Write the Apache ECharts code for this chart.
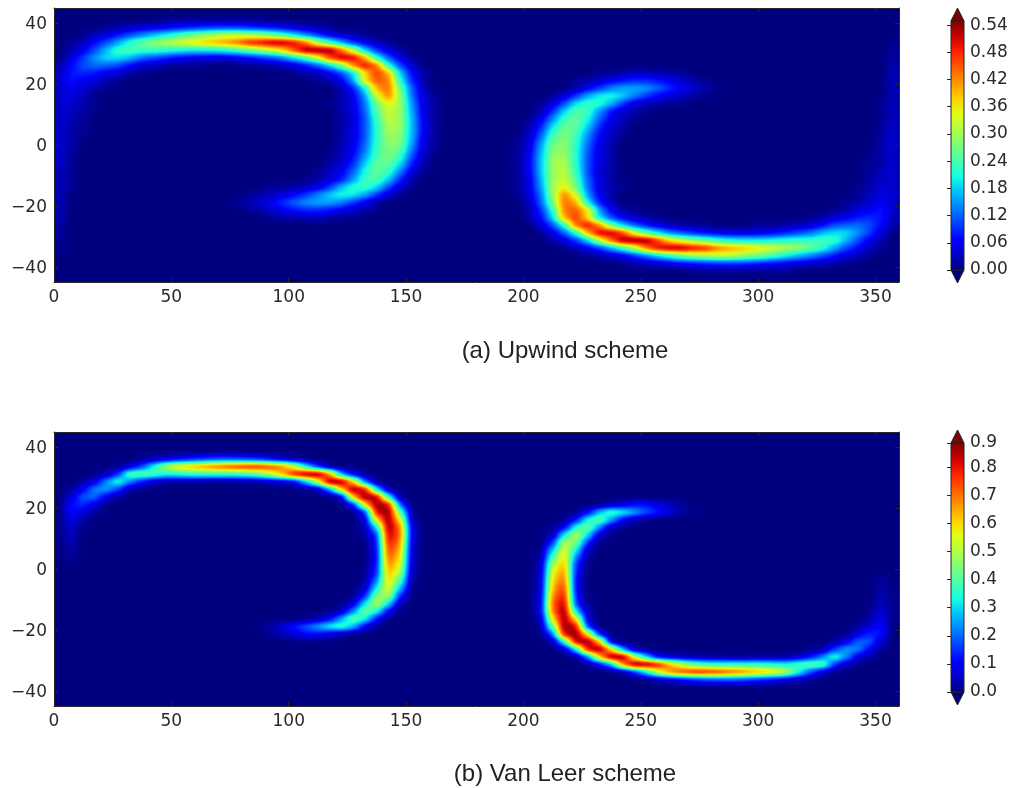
<!DOCTYPE html>
<html><head><meta charset="utf-8">
<style>html,body{margin:0;padding:0;background:#fff}#c{width:1014px;height:788px}</style>
<script src="https://cdn.jsdelivr.net/npm/echarts@6/dist/echarts.min.js"></script>
</head><body><div id="c"></div>
<svg width="0" height="0" style="position:absolute"><filter id="jetSmooth" x="0" y="0" width="100%" height="100%" color-interpolation-filters="sRGB"><feGaussianBlur stdDeviation="4 2.6"/><feComponentTransfer><feFuncR id="fr" type="table"/><feFuncG id="fg" type="table"/><feFuncB id="fbb" type="table"/></feComponentTransfer></filter></svg>
<script>
// rows: [latitude of cell centre, west edge of first cell (deg), values in hundredths ...]; cells are 5 deg x 2.5 deg
const upwindEastCrescent = [
[41.25,45,1,1,1,1,1,1,1,1,1],
[38.75,20,1,2,3,4,5,6,7,8,9,10,10,10,9,8,7,6,4,3,2,1],
[36.25,10,1,3,5,8,11,14,17,20,23,26,28,30,32,32,31,30,27,23,19,14,10,6,4,2,1],
[33.75,5,1,3,7,11,16,22,26,29,31,33,35,37,39,41,43,48,50,53,53,50,43,31,23,16,10,6,3,1],
[31.25,5,2,6,11,17,23,24,23,23,22,21,20,20,20,21,23,26,29,33,37,46,54,56,54,44,32,18,10,5,2],
[28.75,5,5,10,15,19,19,17,13,11,9,7,6,5,5,5,6,7,9,11,14,19,25,33,46,52,51,40,22,12,5,1],
[26.25,0,2,7,11,13,12,11,7,4,3,2,1,1,1,0,0,0,1,1,2,3,5,8,12,18,27,42,50,44,22,11,4],
[23.75,0,3,8,9,8,6,4,2,1],[23.75,100,1,2,3,6,11,19,37,47,40,18,7,2],
[21.25,0,4,8,6,5,2,1],[21.25,110,1,2,6,15,36,45,43,22,9,2],
[18.75,0,4,6,4,2,1],[18.75,120,3,8,20,40,44,27,12,3],
[16.25,0,4,5,3,1],[16.25,120,2,6,15,33,43,29,13,4,1],
[13.75,0,4,4,2,1],[13.75,115,1,2,5,13,27,35,30,15,5,1],
[11.25,0,4,3,2],[11.25,120,2,5,12,25,33,30,16,5,1],
[8.75,0,4,3,1],[8.75,120,2,4,11,23,32,30,17,6,1],
[6.25,0,4,2,1],[6.25,120,2,5,11,22,31,30,17,6,1],
[3.75,0,4,2,1],[3.75,120,2,5,11,22,30,29,17,6,1],
[1.25,0,4,2],[1.25,120,2,5,12,22,29,28,16,5,1],
[-1.25,0,4,2],[-1.25,120,3,6,13,23,28,26,14,4,1],
[-3.75,0,4,1],[-3.75,115,1,3,7,15,24,28,23,11,3],
[-6.25,0,4,1],[-6.25,115,2,4,9,18,26,26,19,8,2],
[-8.75,0,3,1],[-8.75,110,1,3,6,12,21,26,23,14,5,1],
[-11.25,0,3,1],[-11.25,105,1,2,4,8,15,23,25,18,9,2],
[-13.75,0,3,1],[-13.75,90,1,1,2,3,5,10,17,22,23,19,11,4,1],
[-16.25,0,3],[-16.25,80,1,2,3,5,7,10,14,18,21,20,16,10,4,1],
[-18.75,0,3],[-18.75,75,1,2,4,6,9,12,15,16,16,14,10,6,2],
[-21.25,0,3],[-21.25,80,1,2,4,6,8,9,9,8,6,4,2,1],
[-23.75,0,3],[-23.75,90,1,2,2,3,3,2,1,1],
[-26.25,0,2],[-28.75,0,2],[-31.25,0,1],[-33.75,0,1]
];
const upwindWestCrescent = [
[-41.25,270,1,1,1,1,1,1,1,1,1],
[-38.75,240,1,2,3,4,6,7,8,9,10,10,10,9,8,7,6,5,4,3,2,1],
[-36.25,225,1,2,4,6,10,14,19,23,27,30,31,32,32,30,28,26,23,20,17,14,11,8,5,3,1],
[-33.75,215,1,3,6,10,16,23,31,43,50,53,53,50,48,43,41,39,37,35,33,31,29,26,22,16,11,7,3,1],
[-31.25,210,2,5,10,18,32,44,54,56,54,46,37,33,29,26,23,21,20,20,20,21,22,23,23,24,23,17,11,6,2],
[-28.75,205,1,5,12,22,40,51,52,46,33,25,19,14,11,9,7,6,5,5,5,6,7,9,11,13,17,19,19,15,10,5],
[-26.25,205,4,11,22,44,50,42,27,18,12,8,5,3,2,1,1,0,0,0,1,1,1,2,3,4,7,11,12,13,11,7,2],
[-23.75,200,2,7,18,40,47,37,19,11,6,3,2,1],[-23.75,320,1,2,4,6,8,9,8,3],
[-21.25,200,2,9,22,43,45,36,15,6,2,1],[-21.25,330,1,2,5,6,8,4],
[-18.75,200,3,12,27,44,40,20,8,3],[-18.75,335,1,2,4,6,4],
[-16.25,195,1,4,13,29,43,33,15,6,2],[-16.25,340,1,3,5,4],
[-13.75,195,1,5,15,30,35,27,13,5,2,1],[-13.75,340,1,2,4,4],
[-11.25,195,1,5,16,30,33,25,12,5,2],[-11.25,345,2,3,4],
[-8.75,195,1,6,17,30,32,23,11,4,2],[-8.75,345,1,3,4],
[-6.25,195,1,6,17,30,31,22,11,5,2],[-6.25,345,1,2,4],
[-3.75,195,1,6,17,29,30,22,11,5,2],[-3.75,345,1,2,4],
[-1.25,195,1,5,16,28,29,22,12,5,2],[-1.25,350,2,4],
[1.25,195,1,4,14,26,28,23,13,6,3],[1.25,350,2,4],
[3.75,200,3,11,23,28,24,15,7,3,1],[3.75,350,1,4],
[6.25,200,2,8,19,26,26,18,9,4,2],[6.25,350,1,4],
[8.75,200,1,5,14,23,26,21,12,6,3,1],[8.75,350,1,3],
[11.25,205,2,9,18,25,23,15,8,4,2,1],[11.25,350,1,3],
[13.75,205,1,4,11,19,23,22,17,10,5,3,2,1,1],[13.75,350,1,3],
[16.25,210,1,4,10,16,20,21,18,14,10,7,5,3,2,1],[16.25,355,3],
[18.75,220,2,6,10,14,16,16,15,12,9,6,4,2,1],[18.75,355,3],
[21.25,220,1,2,4,6,8,9,9,8,6,4,2,1],[21.25,355,3],
[23.75,230,1,1,2,3,3,2,2,1],[23.75,355,3],
[26.25,355,2],[28.75,355,2],[31.25,355,1],[33.75,355,1]
];
const vanLeerEastCrescent = [
[36.25,35,2,4,7,10,13,15,17,18,17,16,14,10,6,3,1],
[33.75,25,1,7,17,33,50,58,62,66,70,73,76,78,78,74,68,54,32,15,2],
[31.25,15,1,5,16,41,42,39,33,34,36,36,36,36,36,38,42,52,64,80,88,89,68,26,10,1],
[28.75,10,3,8,24,36,22,12,6,3,2,2,2,1,1,2,2,3,4,6,9,28,52,88,89,62,22,2],
[26.25,5,2,10,23,25,16,3,1],[26.25,105,1,3,24,60,89,82,32,4],
[23.75,5,7,19,20,8,2],[23.75,120,6,62,89,85,36,3],
[21.25,5,12,15,8,1],[21.25,125,12,58,89,82,20],
[18.75,5,12,7,2],[18.75,130,14,82,89,42,2],
[16.25,0,1,9,3],[16.25,130,6,58,89,58,4],
[13.75,0,1,7,1],[13.75,130,4,30,88,70,8],
[11.25,0,1,5],[11.25,130,2,15,84,72,8],
[8.75,0,1,4],[8.75,135,12,80,68,7],
[6.25,0,1,3],[6.25,135,10,76,64,6],
[3.75,5,2],[3.75,135,10,72,60,6],
[1.25,5,1],[1.25,135,12,68,56,5],
[-1.25,130,1,14,64,50,4],
[-3.75,130,2,22,60,40,2],
[-6.25,130,5,32,57,28,1],
[-8.75,125,1,14,45,50,15],
[-11.25,120,1,6,30,52,32,4],
[-13.75,115,1,5,22,44,35,10,1],
[-16.25,105,1,4,10,25,42,34,12,1],
[-18.75,85,1,3,7,13,18,25,33,38,28,10,1],
[-21.25,90,2,5,8,12,12,8,4,1]
];
const vanLeerWestCrescent = [
[-36.25,250,1,3,6,10,14,16,17,18,17,15,13,10,7,4,2],
[-33.75,240,2,15,32,54,68,74,78,78,76,73,70,66,62,58,50,33,17,7,1],
[-31.25,225,1,10,26,68,89,88,80,64,52,42,38,36,36,36,36,36,34,33,39,42,41,16,5,1],
[-28.75,220,2,22,62,89,88,52,28,9,6,4,3,2,2,1,1,2,2,2,3,6,12,22,36,24,8,3],
[-26.25,215,4,32,82,89,60,24,3,1],[-26.25,320,1,3,16,25,23,10,2],
[-23.75,210,3,36,85,89,62,6],[-23.75,330,2,8,20,19,7],
[-21.25,210,20,82,89,58,12],[-21.25,335,1,8,15,12],
[-18.75,205,2,42,89,82,14],[-18.75,340,2,7,12],
[-16.25,205,4,58,89,58,6],[-16.25,345,3,9,1],
[-13.75,205,8,70,88,30,4],[-13.75,345,1,7,1],
[-11.25,205,8,72,84,15,2],[-11.25,350,5,1],
[-8.75,205,7,68,80,12],[-8.75,350,4,1],
[-6.25,205,6,64,76,10],[-6.25,350,3,1],
[-3.75,205,6,60,72,10],[-3.75,350,2],
[-1.25,205,5,56,68,12],[-1.25,350,1],
[1.25,205,4,50,64,14,1],
[3.75,205,2,40,60,22,2],
[6.25,205,1,28,57,32,5],
[8.75,210,15,50,45,14,1],
[11.25,210,4,32,52,30,6,1],
[13.75,210,1,10,35,44,22,5,1],
[16.25,215,1,12,34,42,25,10,4,1],
[18.75,220,1,10,28,38,33,25,18,13,7,3,1],
[21.25,230,1,4,8,12,12,8,5,2]
];
const xTicks = [0,50,100,150,200,250,300,350];
const yTicks = [-40,-20,0,20,40];
const upwindBarTicks = [0,0.06,0.12,0.18,0.24,0.30,0.36,0.42,0.48,0.54];
const vanLeerBarTicks = [0,0.1,0.2,0.3,0.4,0.5,0.6,0.7,0.8,0.886];
const upwindMax = 0.549, vanLeerMax = 0.886;
const captions = ['(a) Upwind scheme','(b) Van Leer scheme'];
const jet = ['#00007f','#0000c8','#0000ff','#0040ff','#0080ff','#00bfff','#14ffe2','#48ffaf','#7bff7b','#afff48','#e2ff14','#ffd200','#ff9700','#ff5c00','#ff2100','#c80000','#7f0000'];

const lonCats = [], latCats = [];
for (let i = 0; i < 72; i++) lonCats.push(String(2.5 + 5 * i));
for (let j = 0; j < 36; j++) latCats.push(String(-43.75 + 2.5 * j));

function cells(...sets) {
  const table = new Map();
  sets.forEach(rows => rows.forEach(r => {
    const j = Math.round((r[0] + 43.75) / 2.5), i0 = r[1] / 5;
    r.slice(2).forEach((v, k) => table.set((i0 + k) + ',' + j, v));
  }));
  const out = [];
  lonCats.forEach((_, i) => latCats.forEach((_, j) => out.push([i, j, (table.get(i + ',' + j) || 0) / 100])));
  return out;
}
const ink = '#2a2a2a';
const tickFont = {fontFamily:'DejaVu Sans', fontSize:17, color:ink};
const PANELS = [{left:54, top:8, width:845, height:274},{left:54, top:432, width:845, height:274}];
const grids = [
  {...PANELS[0], show:true, backgroundColor:'#00007f', borderWidth:0},
  {...PANELS[1], show:true, backgroundColor:'#00007f', borderWidth:0},
  {left:951, top:21, width:13, height:249},
  {left:951, top:443, width:13, height:249}
];
const xAxes = [], yAxes = [];
const line = {show:true, onZero:false, lineStyle:{color:ink, width:1}};
const tick = (vals) => ({show:true, inside:true, length:4, customValues:vals, lineStyle:{color:ink, width:1}});
[0,1].forEach(g => {
  xAxes.push({gridIndex:g, type:'category', data:lonCats, show:false});
  yAxes.push({gridIndex:g, type:'category', data:latCats, show:false});
  xAxes.push({gridIndex:g, type:'value', min:0, max:360, position:'bottom', zlevel:2, splitLine:{show:false}, axisLine:line, axisTick:tick(xTicks),
    axisLabel:{...tickFont, margin:7, customValues:xTicks, formatter:v=>String(v)}});
  xAxes.push({gridIndex:g, type:'value', min:0, max:360, position:'top', zlevel:2, splitLine:{show:false}, axisLine:line, axisTick:tick(xTicks), axisLabel:{show:false}});
  yAxes.push({gridIndex:g, type:'value', min:-45, max:45, position:'left', zlevel:2, splitLine:{show:false}, axisLine:line, axisTick:tick(yTicks),
    axisLabel:{...tickFont, margin:7, verticalAlign:'top', lineHeight:3, customValues:yTicks, formatter:v=>String(v).replace('-','\u2212')}});
  yAxes.push({gridIndex:g, type:'value', min:-45, max:45, position:'right', zlevel:2, splitLine:{show:false}, axisLine:line, axisTick:tick(yTicks), axisLabel:{show:false}});
});
function barAxes(g, max, ticks, digits) {
  xAxes.push({gridIndex:g, type:'value', min:0, max:1, show:false});
  yAxes.push({gridIndex:g, type:'value', min:0, max:max, position:'right', zlevel:2, splitLine:{show:false}, axisLine:{show:false},
    axisTick:tick(ticks), axisLabel:{...tickFont, margin:6, customValues:ticks, formatter:v=>v.toFixed(digits)}});
  return xAxes.length - 1;
}
const barA = barAxes(2, upwindMax, upwindBarTicks, 2);
const barB = barAxes(3, vanLeerMax, vanLeerBarTicks, 1);
function colorbar(axisIdx, max) {
  const stops = jet.map((c,i)=>({offset:i/16, color:c}));
  return {type:'custom', xAxisIndex:axisIdx, yAxisIndex:axisIdx, silent:true, z:3, data:[[max]],
    renderItem:(p,api)=>{
      const tl = api.coord([0,max]), br = api.coord([1,0]);
      const tip = 0.052 * max;
      const stroke = {stroke:'#222', lineWidth:1};
      return {type:'group', children:[
        {type:'polygon', shape:{points:[api.coord([0,max]),api.coord([1,max]),api.coord([0.5,max+tip])]}, style:{fill:'#7f0000',...stroke}},
        {type:'polygon', shape:{points:[api.coord([0,0]),api.coord([1,0]),api.coord([0.5,-tip])]}, style:{fill:'#00007f',...stroke}},
        {type:'rect', shape:{x:tl[0],y:tl[1],width:br[0]-tl[0],height:br[1]-tl[1]},
          style:{fill:new echarts.graphic.LinearGradient(0,1,0,0,stops),...stroke}}
      ]};
    }};
}
const heat = (x, y, data) => ({type:'heatmap', xAxisIndex:x, yAxisIndex:y, data, progressive:0, silent:true, zlevel:1, itemStyle:{borderWidth:0}, emphasis:{disabled:true}});
const chart = echarts.init(document.getElementById('c'), null, {renderer:'canvas'});
chart.setOption({
  animation:false,
  backgroundColor:'#fff',
  title: captions.map((t,i)=>({text:t, left:560, top:[334,757][i], textAlign:'center', textStyle:{fontFamily:'Liberation Sans', fontWeight:'normal', fontSize:24, color:'#222'}})),
  grid:grids, xAxis:xAxes, yAxis:yAxes,
  visualMap:[
    {show:false, seriesIndex:0, min:0, max:upwindMax, dimension:2, inRange:{color:['#000000','#ffffff']}},
    {show:false, seriesIndex:1, min:0, max:vanLeerMax, dimension:2, inRange:{color:['#000000','#ffffff']}}
  ],
  series:[
    heat(0,0,cells(upwindEastCrescent, upwindWestCrescent)),
    heat(3,3,cells(vanLeerEastCrescent, vanLeerWestCrescent)),
    colorbar(barA, upwindMax),
    colorbar(barB, vanLeerMax)
  ]
});
// The heat layer holds the values as grey levels; smooth them as the reference's image interpolation does, then apply the jet colour table.
const channel = (s) => jet.map(c => (parseInt(c.substr(s,2),16)/255).toFixed(4)).join(' ');
document.getElementById('fr').setAttribute('tableValues', channel(1));
document.getElementById('fg').setAttribute('tableValues', channel(3));
document.getElementById('fbb').setAttribute('tableValues', channel(5));
const layer = document.querySelector('#c canvas[data-zr-dom-id="zr_1"]');
if (layer) {
  const box = p => `M${p.left} ${p.top}H${p.left+p.width}V${p.top+p.height}H${p.left}Z`;
  layer.style.filter = 'url(#jetSmooth)';
  layer.style.clipPath = `path('${PANELS.map(box).join(' ')}')`;
}
</script></body></html>
